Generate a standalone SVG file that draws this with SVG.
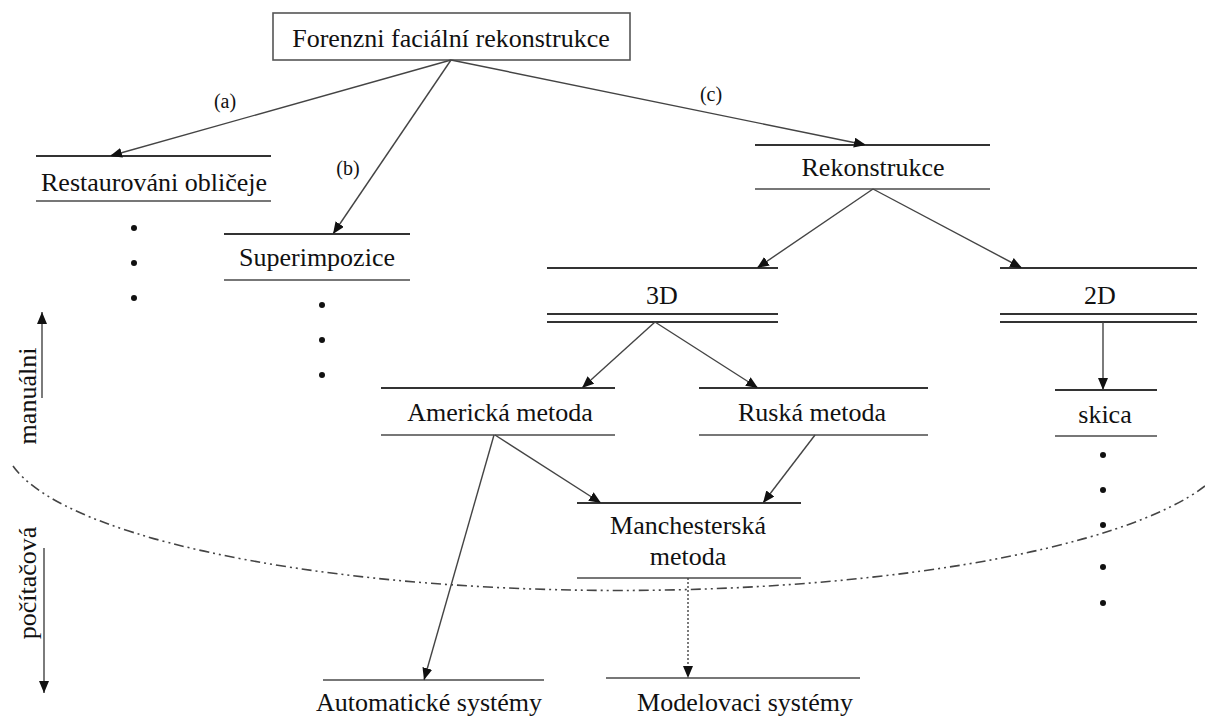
<svg xmlns="http://www.w3.org/2000/svg" width="1205" height="720" viewBox="0 0 1205 720">
<defs>
<style>
.t{font-size:26px;text-anchor:middle;fill:#111;}
.lab{font-size:20px;text-anchor:middle;fill:#111;}
.top{stroke:#333;stroke-width:2;fill:none;}
.bot{stroke:#777;stroke-width:2.2;fill:none;}
.c{stroke:#444;stroke-width:1.4;fill:none;marker-end:url(#ah);}
.dot{fill:#111;}
</style>
<marker id="ah" markerUnits="userSpaceOnUse" markerWidth="14" markerHeight="12" refX="12" refY="5" orient="auto">
<path d="M0,0 L12,5 L0,10 Z" fill="#111"/>
</marker>
</defs>
<rect width="1205" height="720" fill="#fff"/>
<g font-family="'Liberation Serif', 'DejaVu Serif', 'Times New Roman', serif">

<g id="boundary">
<path d="M 13 466 A 615 150 0 0 0 1205 486" fill="none" stroke="#444" stroke-width="1.6" stroke-dasharray="10 4 2 4 2 4"/>
</g>

<g id="axis">
<line x1="42" y1="398" x2="42" y2="312" class="c"/>
<line x1="44" y1="548" x2="44" y2="693" class="c"/>
<text class="t" transform="translate(36,396) rotate(-90)">manuálni</text>
<text class="t" transform="translate(36,583) rotate(-90)">počítačová</text>
</g>

<g id="n-root">
<rect x="273" y="13" width="357" height="47" fill="#fff" stroke="#555" stroke-width="1.6"/>
<text class="t" x="451" y="47">Forenzni faciální rekonstrukce</text>
</g>

<g id="n-restaurovani">
<line class="top" x1="36" y1="156" x2="271" y2="156"/>
<text class="t" x="154" y="191">Restaurováni obličeje</text>
<line class="bot" x1="36" y1="201" x2="271" y2="201"/>
<circle class="dot" cx="134" cy="228" r="3"/>
<circle class="dot" cx="134" cy="263" r="3"/>
<circle class="dot" cx="134" cy="298" r="3"/>
</g>

<g id="n-superimpozice">
<line class="top" x1="224" y1="234" x2="410" y2="234"/>
<text class="t" x="317" y="266">Superimpozice</text>
<line class="bot" x1="224" y1="280" x2="410" y2="280"/>
<circle class="dot" cx="322" cy="305" r="3"/>
<circle class="dot" cx="322" cy="340" r="3"/>
<circle class="dot" cx="322" cy="375" r="3"/>
</g>

<g id="n-rekonstrukce">
<line class="top" x1="755" y1="145" x2="990" y2="145"/>
<text class="t" x="873" y="176">Rekonstrukce</text>
<line class="bot" x1="755" y1="189" x2="990" y2="189"/>
</g>

<g id="n-3d">
<line class="top" x1="547" y1="268" x2="778" y2="268"/>
<text class="t" x="662" y="304">3D</text>
<line class="top" x1="547" y1="314" x2="778" y2="314"/>
<line class="top" x1="547" y1="322" x2="778" y2="322"/>
</g>

<g id="n-2d">
<line class="top" x1="1000" y1="268" x2="1197" y2="268"/>
<text class="t" x="1100" y="304">2D</text>
<line class="top" x1="1000" y1="314" x2="1197" y2="314"/>
<line class="top" x1="1000" y1="322" x2="1197" y2="322"/>
</g>

<g id="n-americka">
<line class="top" x1="381" y1="388" x2="615" y2="388"/>
<text class="t" x="500" y="421">Americká metoda</text>
<line class="bot" x1="381" y1="435" x2="615" y2="435"/>
</g>

<g id="n-ruska">
<line class="top" x1="699" y1="388" x2="928" y2="388"/>
<text class="t" x="812" y="421">Ruská metoda</text>
<line class="bot" x1="699" y1="435" x2="928" y2="435"/>
</g>

<g id="n-skica">
<line class="top" x1="1055" y1="390" x2="1157" y2="390"/>
<text class="t" x="1105" y="423">skica</text>
<line class="bot" x1="1055" y1="436" x2="1157" y2="436"/>
<circle class="dot" cx="1103" cy="455" r="3"/>
<circle class="dot" cx="1103" cy="490" r="3"/>
<circle class="dot" cx="1103" cy="525" r="3"/>
<circle class="dot" cx="1103" cy="567" r="3"/>
<circle class="dot" cx="1103" cy="603" r="3"/>
</g>

<g id="n-manchester">
<line class="top" x1="577" y1="503" x2="801" y2="503"/>
<text class="t" x="688" y="534">Manchesterská</text>
<text class="t" x="688" y="565">metoda</text>
<line class="bot" x1="577" y1="578" x2="801" y2="578"/>
</g>

<g id="n-automaticke">
<line class="bot" x1="323" y1="680" x2="544" y2="680"/>
<text class="t" x="429" y="711">Automatické systémy</text>
</g>

<g id="n-modelovaci">
<line class="bot" x1="606" y1="678" x2="860" y2="678"/>
<text class="t" x="745" y="711">Modelovaci systémy</text>
</g>

<g id="connectors">
<line class="c" x1="451" y1="60" x2="110" y2="156"/>
<line class="c" x1="451" y1="60" x2="333" y2="234"/>
<line class="c" x1="451" y1="60" x2="866" y2="145"/>
<line class="c" x1="873" y1="189" x2="757" y2="268"/>
<line class="c" x1="873" y1="189" x2="1022" y2="268"/>
<line class="c" x1="655" y1="322" x2="582" y2="388"/>
<line class="c" x1="655" y1="322" x2="758" y2="388"/>
<line class="c" x1="1103" y1="322" x2="1103" y2="390"/>
<line class="c" x1="495" y1="435" x2="601" y2="503"/>
<line class="c" x1="815" y1="435" x2="763" y2="503"/>
<line class="c" x1="494" y1="435" x2="424" y2="680"/>
<line class="c" x1="688" y1="578" x2="688" y2="678" stroke-dasharray="2 2"/>
<text class="lab" x="225" y="108">(a)</text>
<text class="lab" x="348" y="175">(b)</text>
<text class="lab" x="711" y="101">(c)</text>
</g>
</g>
</svg>
